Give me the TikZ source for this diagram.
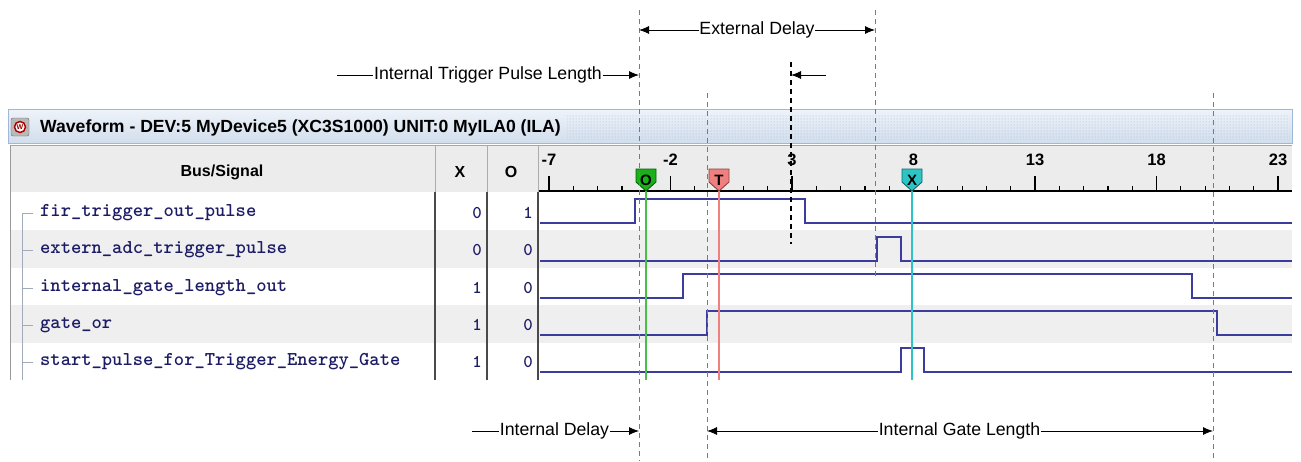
\documentclass[tikz,border=0pt]{standalone}
\usepackage{fontspec}
\setmainfont{Liberation Sans}
\usetikzlibrary{arrows.meta,patterns}
\definecolor{sig}{HTML}{3C3C9C}
\definecolor{txtblue}{HTML}{1C1C66}
\definecolor{rowgray}{HTML}{EFEFEF}
\definecolor{hdrgray}{HTML}{ECECEC}
\definecolor{titletop}{HTML}{EEF3FA}
\definecolor{titlebot}{HTML}{D2DEEC}
\definecolor{titleedge}{HTML}{9FB8D8}
\definecolor{dotblue}{HTML}{A8BCD6}
\definecolor{dashgray}{HTML}{7A7A7A}
\definecolor{mkgreen}{HTML}{19B019}
\definecolor{mkgreend}{HTML}{0A600A}
\definecolor{mkred}{HTML}{F08080}
\definecolor{mkredd}{HTML}{904040}
\definecolor{mkcyan}{HTML}{2CC4C4}
\definecolor{mkcyand}{HTML}{106868}
\definecolor{sepgray}{HTML}{4A4A4A}
\definecolor{treegray}{HTML}{A0AABB}
\newcommand\mkr[5]{%
  \fill[#2,draw=#3,line width=0.9pt] (#1-10,169) -- (#1+10,169) -- (#1+10,182) -- (#1,191) -- (#1-10,182) -- cycle;
  \node[font=\bfseries\fontsize{15}{16}\selectfont,inner sep=0pt] (#5) at (#1,180) {#4};}
\begin{document}
\begin{tikzpicture}[x=1pt,y=-1pt,
  sigline/.style={draw=sig,line width=1.8pt},
  dashline/.style={draw=dashgray,dash pattern=on 5pt off 4pt,line width=0.9pt},
  annot/.style={font=\fontsize{17.7}{20}\selectfont,inner sep=0.5pt},
  arr/.style={-{Latex[length=10pt,width=8pt]},line width=0.8pt},
  plain/.style={line width=0.8pt},
  signame/.style={font=\ttfamily\bfseries\fontsize{19.6}{22}\selectfont,text=txtblue,anchor=west,inner sep=0pt},
  val/.style={font=\ttfamily\bfseries\fontsize{18}{20}\selectfont,text=txtblue,anchor=east,inner sep=0pt},
  hdr/.style={font=\bfseries\fontsize{16}{18}\selectfont,inner sep=0pt},
  rul/.style={font=\bfseries\fontsize{16.5}{18}\selectfont,inner sep=0pt},
  colsep/.style={fill=sepgray}
]
\useasboundingbox (0,0) rectangle (1301,461);
\fill[white] (0,0) rectangle (1301,461);
% title bar
\shade[top color=titletop,bottom color=titlebot] (8,109) rectangle (1292,143);
\draw[titleedge,line width=1pt] (8,109) rectangle (1292,143);
\fill[pattern=dots,pattern color=dotblue] (567,114) rectangle (1290,139);
\fill[gray!55,draw=gray!80!black,rounded corners=2pt] (11,118) rectangle (29,136);
\draw[red!70!black,line width=1.5pt,fill=white] (20,127) circle (5.5);
\node[font=\bfseries\fontsize{7}{8}\selectfont,text=red!60!black,inner sep=0pt] (icon) at (20,127) {W};
\node[font=\bfseries\fontsize{17.6}{20}\selectfont,anchor=west,inner sep=0pt] (title) at (40,127.5) {Waveform - DEV:5 MyDevice5 (XC3S1000) UNIT:0 MyILA0 (ILA)};
% header
\fill[hdrgray] (10,145) rectangle (1292,192);
\draw[gray!70,line width=0.8pt] (10,145) -- (1292,145);
\node[hdr] (hbus) at (222,172) {Bus/Signal};
\node[hdr] (hx) at (460,172) {X};
\node[hdr] (ho) at (511,172) {O};
% ruler
\foreach \t in {-7,...,23} \draw[black,line width=1.2pt] ({549+(\t+7)*24.3},186) -- ({549+(\t+7)*24.3},191);
\foreach \t in {-7,-2,3,8,13,18,23} {
  \draw[black,line width=1.4pt] ({549+(\t+7)*24.3},176) -- ({549+(\t+7)*24.3},191);
  \node[rul] at ({549+(\t+7)*24.3},160) {\t};
}
% body
\fill[white] (10,192) rectangle (1292,380);
\fill[rowgray] (10,230) rectangle (1292,267.5);
\fill[rowgray] (10,305) rectangle (1292,342.5);
\draw[black,line width=2pt] (538,191) -- (1292,191);
\draw[gray!80,line width=0.8pt] (10,145) -- (10,380);
% tree
\draw[treegray,line width=1pt] (33,213) -- (22,213) -- (22,380);
\foreach \yy in {250,288,325,362} \draw[treegray,line width=1pt] (22,\yy) -- (33,\yy);
% signal names
\node[signame] (s1) at (40,213) {fir\_trigger\_out\_pulse};
\node[signame] (s2) at (40,250) {extern\_adc\_trigger\_pulse};
\node[signame] (s3) at (40,288) {internal\_gate\_length\_out};
\node[signame] (s4) at (40,325) {gate\_or};
\node[signame] (s5) at (40,362) {start\_pulse\_for\_Trigger\_Energy\_Gate};
\node[val] (x1) at (482,213) {0}; \node[val] (o1) at (533,213) {1};
\node[val] (x2) at (482,250) {0}; \node[val] (o2) at (533,250) {0};
\node[val] (x3) at (482,288) {1}; \node[val] (o3) at (533,288) {0};
\node[val] (x4) at (482,325) {1}; \node[val] (o4) at (533,325) {0};
\node[val] (x5) at (482,362) {1}; \node[val] (o5) at (533,362) {0};
% column separators
\fill[gray!65] (434.5,145) rectangle (435.5,192);
\fill[gray!65] (486.5,145) rectangle (487.5,192);
\fill[gray!65] (537.5,145) rectangle (538.5,192);
\fill[colsep] (434,192) rectangle (436,380);
\fill[colsep] (485.5,192) rectangle (487.5,380);
\fill[colsep] (537,192) rectangle (539,380);
% waveforms
\draw[sigline] (540,223) -- (635,223) -- (635,199) -- (805,199) -- (805,223) -- (1292,223);
\draw[sigline] (540,261) -- (877,261) -- (877,237) -- (901,237) -- (901,261) -- (1292,261);
\draw[sigline] (540,298) -- (683,298) -- (683,274) -- (1192,274) -- (1192,298) -- (1292,298);
\draw[sigline] (540,335) -- (707,335) -- (707,311) -- (1217,311) -- (1217,335) -- (1292,335);
\draw[sigline] (540,372) -- (901,372) -- (901,348) -- (924,348) -- (924,372) -- (1292,372);
% marker lines
\draw[mkgreen!80!white,line width=1.8pt] (646,191) -- (646,380);
\draw[mkred,line width=1.8pt] (719,191) -- (719,380);
\draw[mkcyan,line width=1.8pt] (912,191) -- (912,380);
\mkr{646}{mkgreen}{mkgreend}{O}{mo}
\mkr{719}{mkred}{mkredd}{T}{mt}
\mkr{912}{mkcyan}{mkcyand}{X}{mx}
% dashed guide lines
\coordinate (dAt) at (639,10);  \coordinate (dAb) at (639,461);
\coordinate (dBt) at (707,93);  \coordinate (dBb) at (707,461);
\coordinate (dCt) at (791,62);  \coordinate (dCb) at (791,244);
\coordinate (dDt) at (875,10);  \coordinate (dDb) at (875,279);
\coordinate (dEt) at (1213,93); \coordinate (dEb) at (1213,461);
\draw[dashline] (dAt) -- (dAb);
\draw[dashline] (dBt) -- (dBb);
\draw[dashline,draw=black,line width=1.1pt] (dCt) -- (dCb);
\draw[dashline] (dDt) -- (dDb);
\draw[dashline] (dEt) -- (dEb);
% annotations
\node[annot] (ext) at (757,30) {External Delay};
\draw[arr] (ext.west) -- (ext.west -| dAt);
\draw[arr] (ext.east) -- (ext.east -| dDt);
\node[annot] (itpl) at (488,75) {Internal Trigger Pulse Length};
\coordinate (itplL) at (337,75);
\draw[plain] (itplL) -- (itpl.west);
\draw[arr] (itpl.east) -- (itpl.east -| dAt);
\coordinate (sa) at (826,75);
\draw[arr] (sa) -- (sa -| dCt);
\node[annot] (idl) at (554.5,431) {Internal Delay};
\coordinate (idlL) at (472,431);
\draw[plain] (idlL) -- (idl.west);
\draw[arr] (idl.east) -- (idl.east -| dAt);
\node[annot] (igl) at (959.5,431) {Internal Gate Length};
\draw[arr] (igl.west) -- (igl.west -| dBt);
\draw[arr] (igl.east) -- (igl.east -| dEt);
\end{tikzpicture}
\end{document}
